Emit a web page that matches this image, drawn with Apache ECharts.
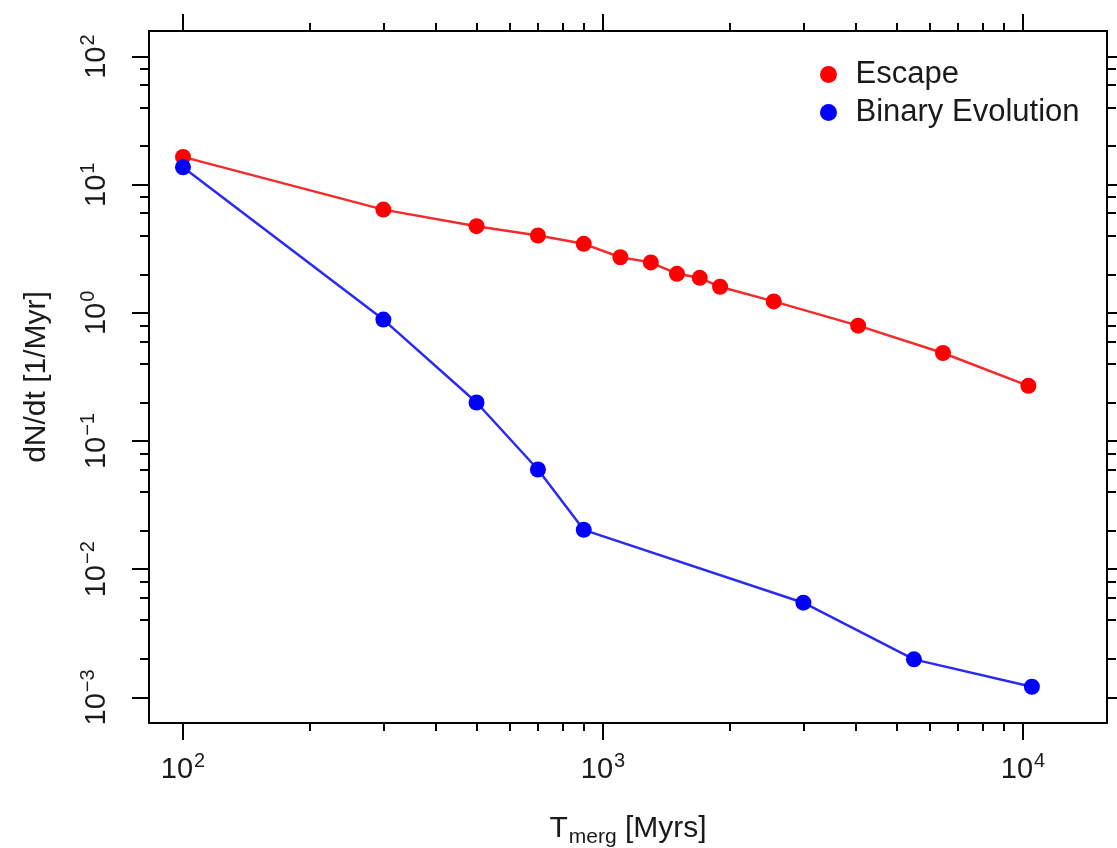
<!DOCTYPE html>
<html>
<head>
<meta charset="utf-8">
<script src="https://cdn.jsdelivr.net/npm/echarts@6/dist/echarts.min.js"></script>
<style>
  html, body { margin: 0; padding: 0; background: #fff; }
  #chart { width: 1117px; height: 848px; }
</style>
</head>
<body>
<div id="chart"></div>
<script>
// data
const escapeT = [100, 300, 500, 700, 900, 1100, 1300, 1500, 1700, 1900, 2550, 4050, 6450, 10300];
const escapeRate = [16.5, 6.4, 4.75, 4.02, 3.46, 2.72, 2.48, 2.02, 1.88, 1.6, 1.23, 0.796, 0.487, 0.27];
const binaryT = [100, 300, 500, 700, 900, 3000, 5500, 10500];
const binaryRate = [13.7, 0.887, 0.2, 0.06, 0.0203, 0.00548, 0.00198, 0.00121];

// ticks
const xMajor = [100, 1000, 10000];
const xMinor = [200, 300, 400, 500, 600, 700, 800, 900, 2000, 3000, 4000, 5000, 6000, 7000, 8000, 9000];
const yMajor = [0.001, 0.01, 0.1, 1, 10, 100];
const yMinor = [0.002, 0.004, 0.006, 0.008, 0.02, 0.04, 0.06, 0.08, 0.2, 0.4, 0.6, 0.8,
                2, 4, 6, 8, 20, 40, 60, 80];

const xMin = 83, xMax = 15850;
const yMin = 0.000631, yMax = 158.5;

const FONT = 'Liberation Sans, Arial, Helvetica, sans-serif';
const chart = echarts.init(document.getElementById('chart'));

const powLabel = v => {
  const e = Math.round(Math.log10(v));
  return '{b|10}{s|' + (e < 0 ? '\u2212' + (-e) : e) + '}';
};
const labelRich = {
  b: { fontSize: 29, fontFamily: FONT, color: '#1a1a1a' },
  s: { fontSize: 20, fontFamily: FONT, color: '#1a1a1a', padding: [0, 0, 18, 1] }
};
const lineStyle = { color: '#000', width: 2 };

function xAxisDef(pos, ticks, len, withLabels) {
  const ax = {
    type: 'log', position: pos, min: xMin, max: xMax, logBase: 10,
    axisLine: { show: true, lineStyle: lineStyle },
    axisTick: { show: true, customValues: ticks, length: len, lineStyle: lineStyle },
    axisLabel: { show: false },
    splitLine: { show: false }, minorTick: { show: false }
  };
  if (withLabels) {
    ax.axisLabel = { show: true, customValues: ticks, formatter: powLabel, rich: labelRich, margin: 28 };
    ax.name = '{b|T}{u|merg}{b| [Myrs]}';
    ax.nameLocation = 'middle';
    ax.nameGap = 86;
    ax.nameTextStyle = {
      rich: {
        b: { fontSize: 30, fontFamily: FONT, color: '#1a1a1a' },
        u: { fontSize: 21, fontFamily: FONT, color: '#1a1a1a', padding: [18, 0, 0, 1] }
      }
    };
  }
  return ax;
}

function yAxisDef(pos, ticks, len, withLabels) {
  const ax = {
    type: 'log', position: pos, min: yMin, max: yMax, logBase: 10,
    axisLine: { show: true, lineStyle: lineStyle },
    axisTick: { show: true, customValues: ticks, length: len, lineStyle: lineStyle },
    axisLabel: { show: false },
    splitLine: { show: false }, minorTick: { show: false }
  };
  if (withLabels) {
    ax.axisLabel = { show: true, customValues: ticks, formatter: powLabel, rich: labelRich, rotate: 90, margin: 33 };
    ax.name = 'dN/dt [1/Myr]';
    ax.nameLocation = 'middle';
    ax.nameRotate = 90;
    ax.nameGap = 97;
    ax.nameTextStyle = { fontSize: 30, fontFamily: FONT, color: '#1a1a1a' };
  }
  return ax;
}

const option = {
  animation: false,
  backgroundColor: '#fff',
  grid: { left: 149, right: 10, top: 31, bottom: 125, containLabel: false, outerBoundsMode: 'none' },
  legend: {
    orient: 'vertical', left: 815, top: 54,
    icon: 'circle', itemWidth: 44, itemHeight: 17, itemGap: 7,
    textStyle: { fontSize: 31, fontFamily: FONT, color: '#1a1a1a' },
    data: ['Escape', 'Binary Evolution']
  },
  xAxis: [
    xAxisDef('bottom', xMajor, 17, true),
    xAxisDef('bottom', xMinor, 8, false),
    xAxisDef('top', xMajor, 17, false),
    xAxisDef('top', xMinor, 8, false)
  ],
  yAxis: [
    yAxisDef('left', yMajor, 17, true),
    yAxisDef('left', yMinor, 9, false),
    yAxisDef('right', yMajor, 17, false),
    yAxisDef('right', yMinor, 9, false)
  ],
  series: [
    {
      name: 'Escape', type: 'line', xAxisIndex: 0, yAxisIndex: 0,
      symbol: 'circle', symbolSize: 16,
      itemStyle: { color: '#ff0000' },
      lineStyle: { color: '#f52a2a', width: 2.5 },
      data: escapeT.map((t, i) => [t, escapeRate[i]])
    },
    {
      name: 'Binary Evolution', type: 'line', xAxisIndex: 0, yAxisIndex: 0,
      symbol: 'circle', symbolSize: 16,
      itemStyle: { color: '#0000ff' },
      lineStyle: { color: '#2a2af5', width: 2.5 },
      data: binaryT.map((t, i) => [t, binaryRate[i]])
    }
  ]
};

chart.setOption(option);
</script>
</body>
</html>
